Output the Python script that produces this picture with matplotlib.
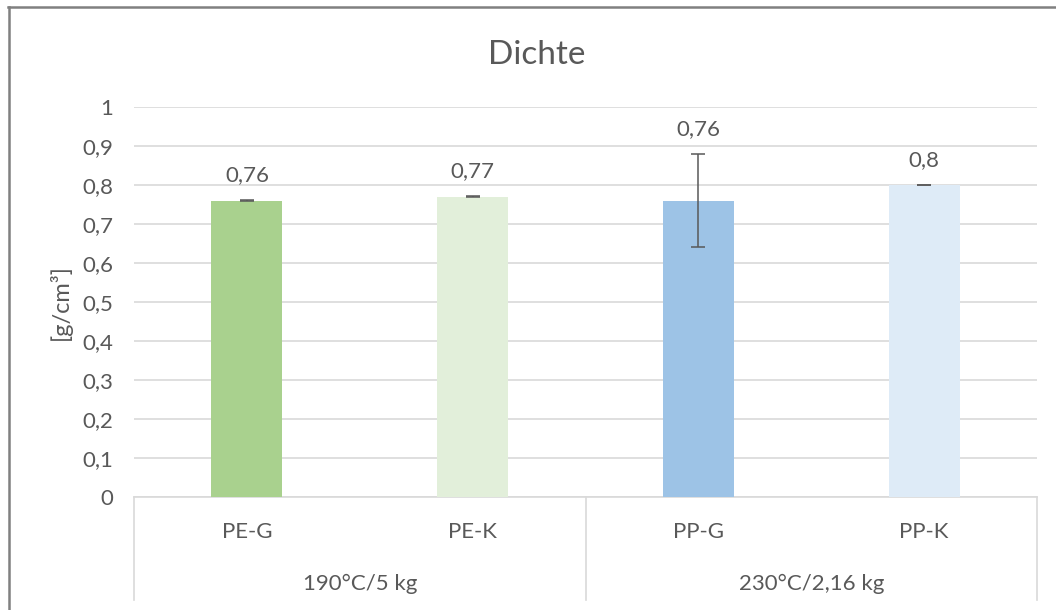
import matplotlib
matplotlib.use("Agg")
import matplotlib.pyplot as plt
from matplotlib.lines import Line2D
from matplotlib.ticker import FuncFormatter, MultipleLocator
import matplotlib.transforms as mtransforms

# ---- data ----
categories = ["PE-G", "PE-K", "PP-G", "PP-K"]
groups = ["190°C/5 kg", "230°C/2,16 kg"]
group_sizes = [2, 2]
values = [0.76, 0.77, 0.76, 0.80]
errors = [0.002, 0.002, 0.12, 0.001]
labels = ["0,76", "0,77", "0,76", "0,8"]
colors = ["#A9D18E", "#E2EFDA", "#9DC3E6", "#DEEBF7"]
title = "Dichte"
ylabel = "[g/cm³]"

plt.rcParams['font.family'] = ['Lato', 'DejaVu Sans']
TXT = "#595959"
GRID = "#D9D9D9"
FS = 16

W, H = 1056, 610
fig = plt.figure(figsize=(W / 100, H / 100), dpi=100)
fig.patch.set_facecolor("white")
ax = fig.add_axes([134 / W, 1 - 497 / H, (1037 - 134) / W, (497 - 107) / H])

x = list(range(len(categories)))
ax.bar(x, values, width=0.315, color=colors, zorder=3)
ax.errorbar(x, values, yerr=errors, fmt="none", ecolor=TXT, elinewidth=1.1,
            capsize=5, capthick=1.1, zorder=4)

for xi, v, e, lab in zip(x, values, errors, labels):
    ax.annotate(lab, (xi, v + e), xytext=(0, 18), textcoords="offset points",
                ha="center", va="center", fontsize=FS, color=TXT)

ax.set_xlim(-0.5, len(categories) - 0.5)
ax.set_ylim(0, 1)
ax.yaxis.set_major_locator(MultipleLocator(0.1))
ax.yaxis.set_major_formatter(FuncFormatter(
    lambda v, p: ("%g" % round(v, 2)).replace(".", ",")))
ax.grid(axis="y", color=GRID, linewidth=1.2, zorder=0)
ax.tick_params(axis="y", length=0, pad=15, labelsize=FS, labelcolor=TXT)
ax.set_xticks([])
for s in ["left", "right", "top"]:
    ax.spines[s].set_visible(False)
ax.spines["bottom"].set_color(GRID)
ax.spines["bottom"].set_linewidth(1.2)
ax.text(-0.082, 0.5, ylabel, transform=ax.transAxes, rotation=90,
        ha="center", va="center", fontsize=FS + 1, color=TXT)

fig.text(537 / W, 1 - 55 / H, title, ha="center", va="center",
         fontsize=24, color=TXT)

# multi-level category axis
trans = mtransforms.blended_transform_factory(ax.transData, ax.transAxes)
for xi, c in zip(x, categories):
    ax.text(xi, -0.09, c, transform=trans, ha="center", va="center",
            fontsize=FS, color=TXT, clip_on=False)
start = 0
bounds = [-0.5]
for g, n in zip(groups, group_sizes):
    center = start + (n - 1) / 2
    ax.text(center, -0.222, g, transform=trans, ha="center", va="center",
            fontsize=FS, color=TXT, clip_on=False)
    start += n
    bounds.append(start - 0.5)
for b in bounds:
    ax.add_line(Line2D([b, b], [0, -0.264], transform=trans, color=GRID,
                       linewidth=1.2, clip_on=False))

# outer chart border (left and top visible)
fig.add_artist(Line2D([8.5 / W, 8.5 / W], [0, 1 - 7 / H], color="#808080",
                      linewidth=1.8, transform=fig.transFigure))
fig.add_artist(Line2D([7.6 / W, 1], [1 - 7 / H, 1 - 7 / H], color="#808080",
                      linewidth=1.8, transform=fig.transFigure))

fig.savefig("out.png", dpi=100, facecolor="white")
